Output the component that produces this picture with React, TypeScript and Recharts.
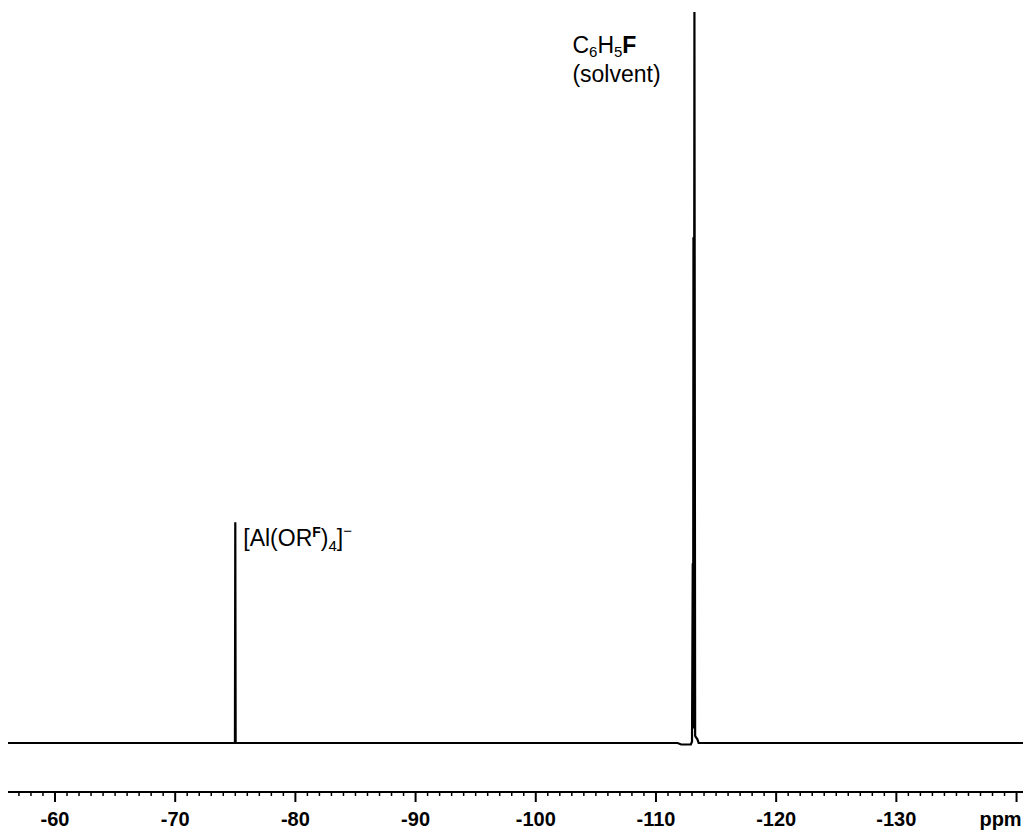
import { LineChart, Line, XAxis, YAxis, ReferenceDot } from "recharts";

// chemical shift (ppm) and intensity (arb. units, solvent peak = 100)
const shifts = [
  -56.09, -74.97, -75.0, -75.03, -111.8, -112.1, -112.9, -113.0, -113.06, -113.09,
  -113.12, -113.15, -113.2, -113.26, -113.32, -113.45, -113.55, -140.62,
];
const intensities = [
  0, 0, 30.2, 0, 0, -0.2, -0.2, 0.2, 24.6, 2, 69.2, 3, 100, 1, 0.8, 0.5, 0, 0,
];

const majorTicks = [-60, -70, -80, -90, -100, -110, -120, -130, -140];
const majorLabels = ["-60", "-70", "-80", "-90", "-100", "-110", "-120", "-130", "ppm"];

const anionShift = -75.0;
const anionHeight = 30.2;
const solventShift = -113.2;
const solventHeight = 100;

const data = shifts.map((ppm, i) => ({ ppm, y: intensities[i] }));

// minor ticks every 1 ppm
const allTicks: number[] = [];
for (let v = -57; v >= -140; v--) allTicks.push(v);

const FONT = "'Liberation Sans', Arial, sans-serif";

function AxisTick(props: any) {
  const { x, y, payload } = props;
  const v = payload.value;
  const idx = majorTicks.indexOf(v);
  if (idx < 0) {
    return <line x1={x} x2={x} y1={y} y2={y + 4} stroke="#000" strokeWidth={1.5} />;
  }
  return (
    <g>
      <line x1={x} x2={x} y1={y} y2={y + 10} stroke="#000" strokeWidth={2} />
      <text
        x={v === -140 ? x - 16 : x}
        y={y + 34}
        textAnchor="middle"
        fontFamily={FONT}
        fontWeight="bold"
        fontSize={20}
        fill="#000"
      >
        {majorLabels[idx]}
      </text>
    </g>
  );
}

function SolventLabel(props: any) {
  const { cx, cy } = props;
  return (
    <g fontFamily={FONT} fontSize={23} fill="#000">
      <text x={cx - 122} y={cy + 41}>
        C<tspan fontSize={15} dy={4}>6</tspan>
        <tspan dy={-4}>H</tspan>
        <tspan fontSize={15} dy={4}>5</tspan>
        <tspan dy={-4} fontWeight="bold">F</tspan>
      </text>
      <text x={cx - 122} y={cy + 70}>(solvent)</text>
    </g>
  );
}

function AnionLabel(props: any) {
  const { cx, cy } = props;
  return (
    <text x={cx + 8} y={cy + 24} fontFamily={FONT} fontSize={23} fill="#000">
      [Al(OR
      <tspan fontSize={14} fontWeight="bold" dy={-9}>F</tspan>
      <tspan dy={9}>)</tspan>
      <tspan fontSize={15} dy={5}>4</tspan>
      <tspan dy={-5}>]</tspan>
      <tspan fontSize={15} dy={-10}>−</tspan>
    </text>
  );
}

export default function App() {
  return (
    <LineChart
      width={1023}
      height={824}
      data={data}
      margin={{ top: 4, right: 7, bottom: 0, left: 0 }}
    >
      <XAxis
        dataKey="ppm"
        type="number"
        domain={[-140.62, -56.09]}
        reversed
        allowDataOverflow
        ticks={allTicks}
        interval={0}
        tickLine={false}
        tickSize={0}
        tickMargin={0}
        tick={<AxisTick />}
        axisLine={{ stroke: "#000", strokeWidth: 2 }}
        height={40}
      />
      <YAxis type="number" domain={[-6.7, 100]} allowDataOverflow hide />
      <Line
        dataKey="y"
        type="linear"
        stroke="#000"
        strokeWidth={2.2}
        dot={false}
        isAnimationActive={false}
      />
      <ReferenceDot
        x={solventShift}
        y={solventHeight}
        r={0}
        shape={(p: any) => <SolventLabel {...p} />}
      />
      <ReferenceDot
        x={anionShift}
        y={anionHeight}
        r={0}
        shape={(p: any) => <AnionLabel {...p} />}
      />
    </LineChart>
  );
}
